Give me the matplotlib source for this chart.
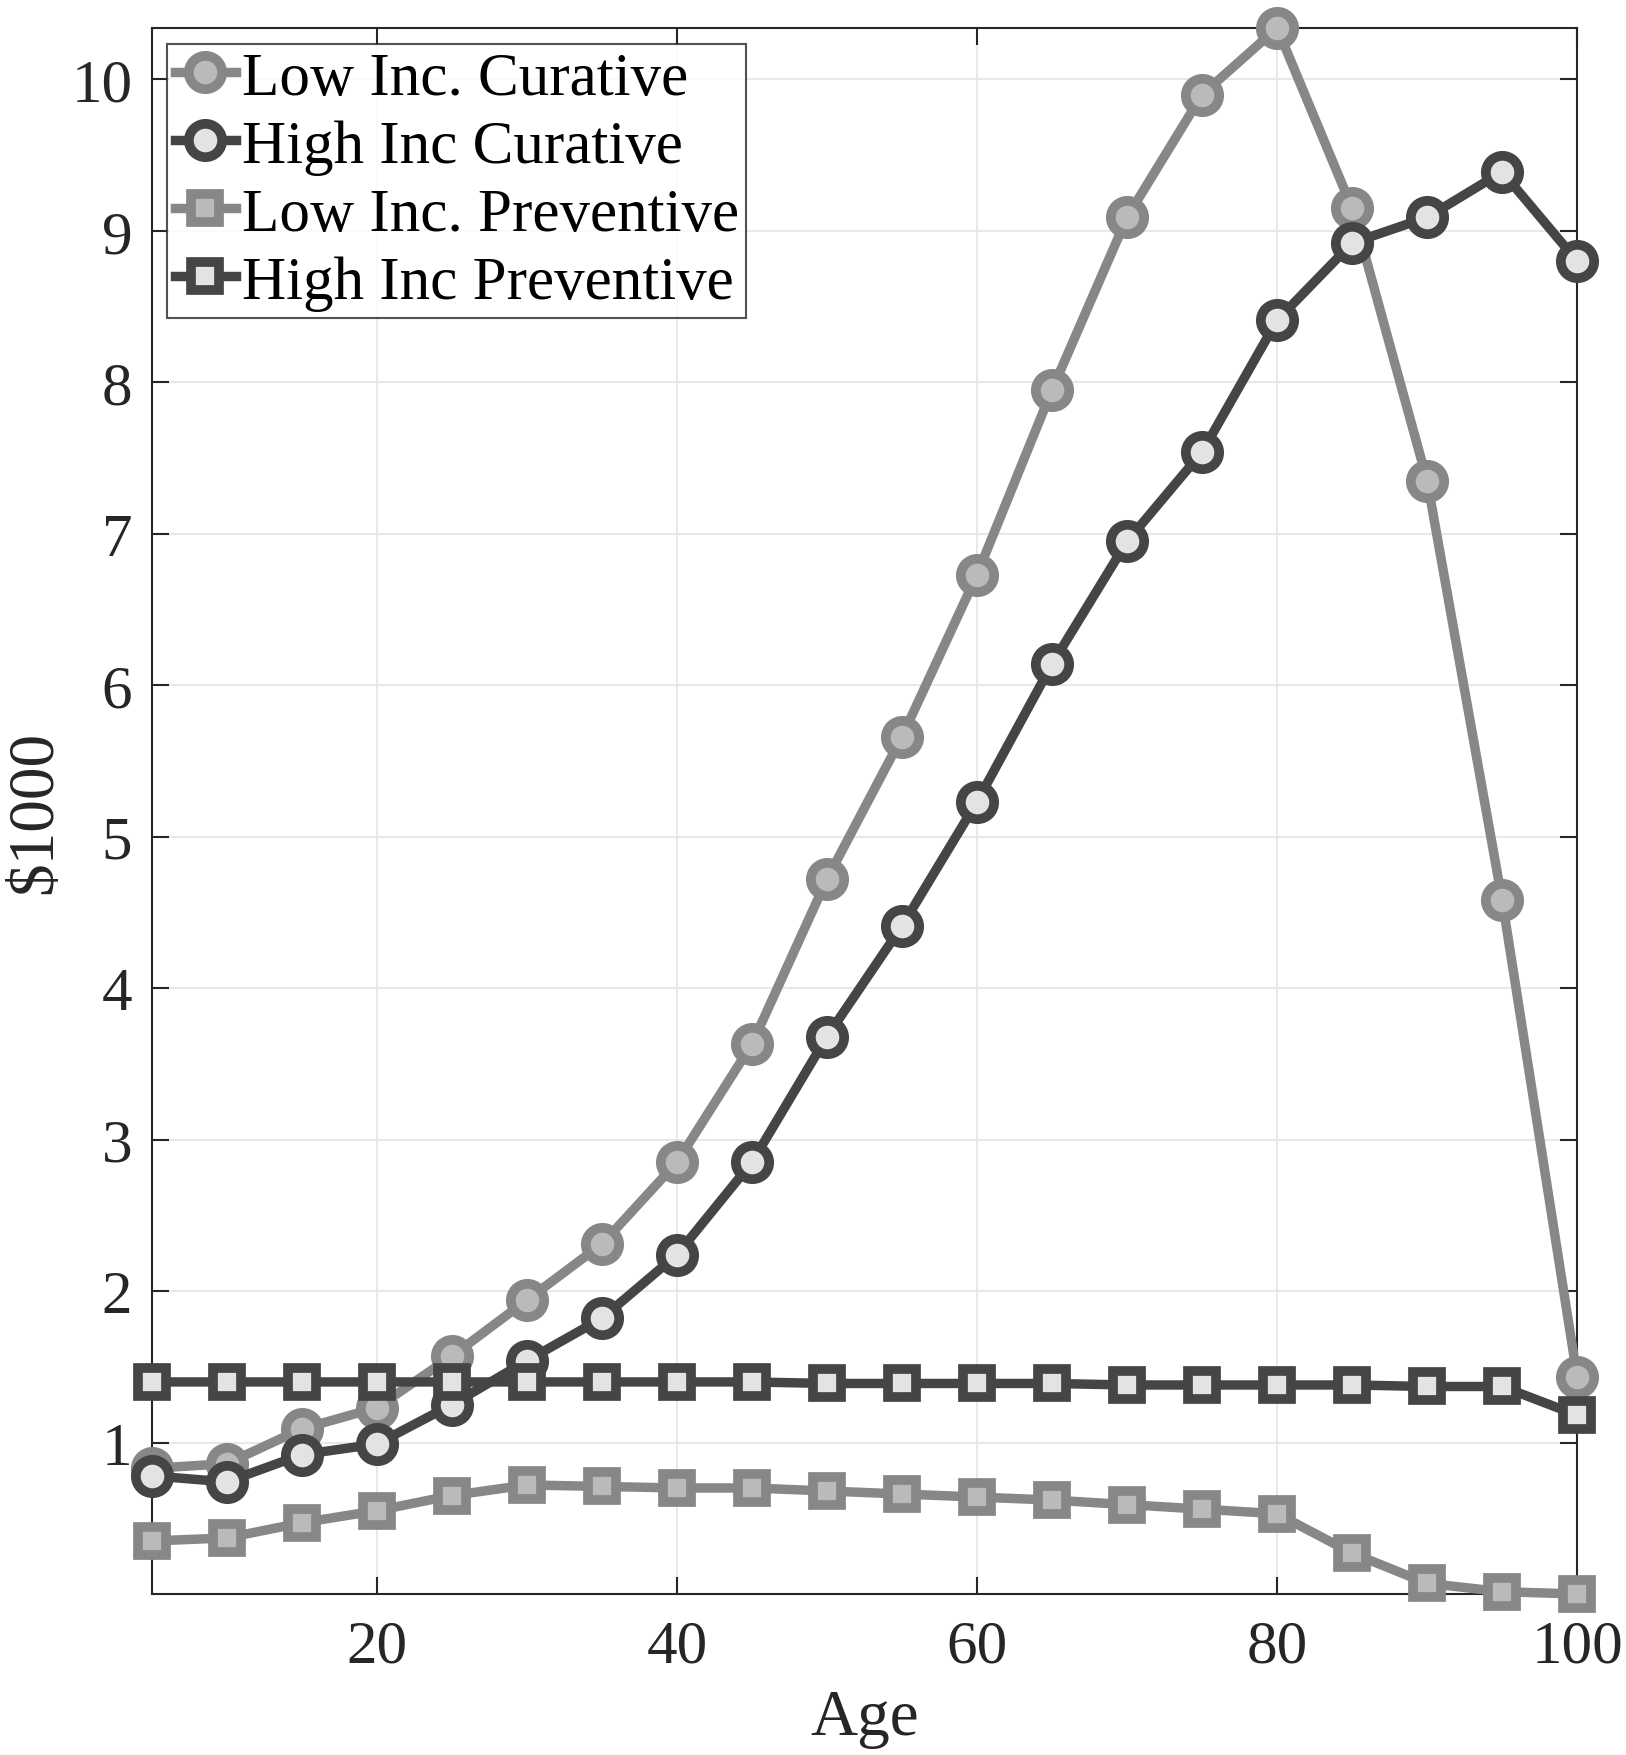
import matplotlib
matplotlib.use("Agg")
import matplotlib.pyplot as plt
import numpy as np

age = [5, 10, 15, 20, 25, 30, 35, 40, 45, 50, 55, 60, 65, 70, 75, 80, 85, 90, 95, 100]
low_curative = [0.83, 0.86, 1.09, 1.23, 1.57, 1.94, 2.31, 2.85, 3.63, 4.72, 5.66, 6.73,
                7.95, 9.09, 9.90, 10.34, 9.15, 7.35, 4.58, 1.43]
high_curative = [0.78, 0.74, 0.92, 0.99, 1.25, 1.54, 1.82, 2.24, 2.85, 3.68, 4.41, 5.23,
                 6.14, 6.95, 7.54, 8.41, 8.92, 9.09, 9.39, 8.80]
low_preventive = [0.35, 0.37, 0.47, 0.55, 0.65, 0.72, 0.71, 0.70, 0.70, 0.68, 0.66, 0.64,
                  0.62, 0.59, 0.56, 0.53, 0.27, 0.07, 0.015, 0.0]
high_preventive = [1.40, 1.40, 1.40, 1.40, 1.40, 1.40, 1.40, 1.40, 1.40, 1.39, 1.39, 1.39,
                   1.39, 1.38, 1.38, 1.38, 1.38, 1.37, 1.37, 1.18]
labels = ["Low Inc. Curative", "High Inc Curative", "Low Inc. Preventive", "High Inc Preventive"]
xticks = [20, 40, 60, 80, 100]
yticks = [1, 2, 3, 4, 5, 6, 7, 8, 9, 10]

plt.rcParams['font.family'] = ['Liberation Serif', 'DejaVu Serif']
plt.rcParams['mathtext.fontset'] = 'stix'

fig = plt.figure(figsize=(16.26, 17.56), dpi=100)
ax = fig.add_axes([0.0933, 0.0917, 0.970 - 0.0933, 0.9835 - 0.0917])

light_line, light_fill = '#878787', '#bababa'
dark_line, dark_fill = '#454545', '#e3e3e3'

lw = 6.8
common = dict(lw=lw, clip_on=False, zorder=3)
ax.plot(age, low_curative, marker='o', ms=24, mew=7, color=light_line, mfc=light_fill,
        mec=light_line, label=labels[0], **common)
ax.plot(age, high_curative, marker='o', ms=24, mew=7, color=dark_line, mfc=dark_fill,
        mec=dark_line, label=labels[1], **common)
ax.plot(age, low_preventive, marker='s', ms=20, mew=7, color=light_line, mfc=light_fill,
        mec=light_line, label=labels[2], **common)
ax.plot(age, high_preventive, marker='s', ms=20, mew=7, color=dark_line, mfc=dark_fill,
        mec=dark_line, label=labels[3], **common)

allv = low_curative + high_curative + low_preventive + high_preventive
ax.set_xlim(min(age), max(age))
ax.set_ylim(min(allv), max(allv))
ax.set_xticks(xticks)
ax.set_yticks(yticks)
ax.grid(True, color='#e6e6e6', lw=1.3, zorder=0)
ax.set_axisbelow(True)

txt = '#262626'
ax.tick_params(direction='in', length=12, width=1.5, colors=txt, labelsize=44,
               top=True, right=True)
ax.tick_params(axis='x', pad=18)
ax.tick_params(axis='y', pad=14)
for s in ax.spines.values():
    s.set_color('#262626')
    s.set_linewidth(1.5)

ax.set_xlabel('Age', fontsize=47, color=txt, labelpad=10)
ax.set_ylabel(r'\$1000', fontsize=47, color=txt, labelpad=4)

leg = ax.legend(loc='upper left', bbox_to_anchor=(0.011, 0.99), borderaxespad=0,
                fontsize=44, handlelength=1.0, handletextpad=0.1, labelspacing=0.2,
                borderpad=0.12, frameon=True, fancybox=False, markerscale=1.0)
leg.get_frame().set_edgecolor('#262626')
leg.get_frame().set_linewidth(1.5)
for t in leg.get_texts():
    t.set_color('black')

fig.savefig('out.png', dpi=100, facecolor='white')
